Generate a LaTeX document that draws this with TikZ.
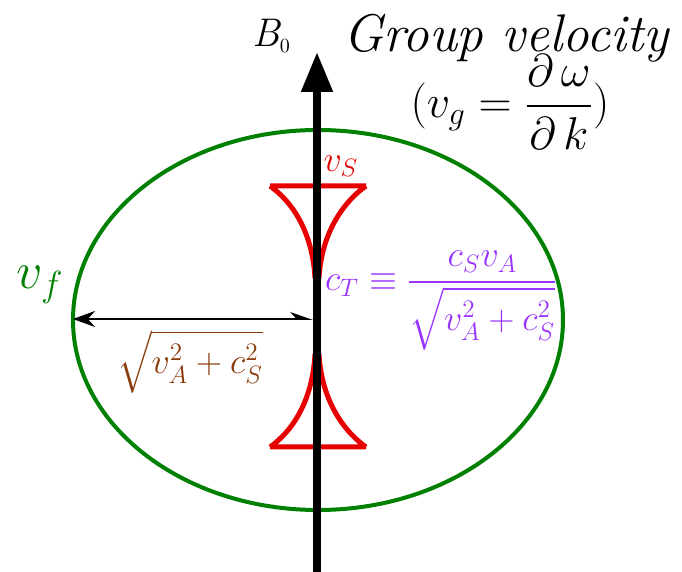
\RequirePackage{fix-cm}
\documentclass[tikz,border=0pt]{standalone}
\usepackage{amsmath}
\usepackage{fontspec}
\usetikzlibrary{arrows.meta, positioning, calc}
\definecolor{fastgreen}{HTML}{008000}
\definecolor{slowred}{HTML}{E60000}
\definecolor{cuspviolet}{HTML}{9933FF}
\definecolor{rootbrown}{HTML}{8B3A0A}

\begin{document}
\begin{tikzpicture}[
  x=0.5pt, y=-0.5pt,
  fast/.style={draw=fastgreen, line width=2pt},
  slow/.style={draw=slowred, line width=2.5pt, line join=round},
  field/.style={line width=4pt, -{Triangle[length=20pt, width=15pt]}},
  speed/.style={line width=1pt, {Stealth[length=11pt, width=8pt]}-{Stealth[harpoon, length=10pt, width=7pt]}},
  lbl/.style={inner sep=0pt, outer sep=0pt}
]
  \useasboundingbox (0,0) rectangle (682,572);

  % fast and slow wave fronts
  \draw[fast] (318,320) ellipse [x radius=245, y radius=190];
  \draw[slow] (270,186) -- (366,186)
    (270,186) .. controls (298,206) and (313,240) .. (315,278)
    (366,186) .. controls (338,206) and (321,240) .. (319,278);
  \draw[slow] (270,447) -- (366,447)
    (270,447) .. controls (298,427) and (313,393) .. (315,354)
    (366,447) .. controls (338,427) and (321,393) .. (319,354);

  % field line and fast speed
  \coordinate (axbot) at (317,572);
  \coordinate (axtop) at (317,52);
  \coordinate (fleft) at (73,319);
  \coordinate (faxis) at (313,319);
  \draw[field] (axbot) -- (axtop);
  \draw[speed] (fleft) -- (faxis);

  \node[lbl] (bzero) at (271,36) {\fontsize{20}{24}\selectfont\itshape B\raisebox{-0.35ex}{\fontsize{10}{10}\selectfont\upshape 0}};
  \node[lbl] (title) at (506,38) {\fontsize{26.5}{30}\selectfont\itshape Group velocity};
  \node[lbl] (vgroup) at (510,102) {\fontsize{23}{28}\selectfont $(v_{g} = \dfrac{\partial\,\omega}{\partial\,k})$};

  \node[lbl, text=slowred] (vslow) at (341,166) {\fontsize{18}{20}\selectfont $v_{S}$};
  \node[lbl, anchor=base west, text=cuspviolet] (ctube) at (325,291) {\fontsize{18}{20}\selectfont $c_{T} \equiv \dfrac{c_{S} v_{A}}{\sqrt{v_{A}^{2} + c_{S}^{2}}}$};
  \node[lbl, text=fastgreen] (vfast) at (40,285) {\fontsize{26}{30}\selectfont $v_{f}$};
  \node[lbl, text=rootbrown] (vroot) at (190,362) {\fontsize{18}{20}\selectfont $\sqrt{v_{A}^{2} + c_{S}^{2}}$};
\end{tikzpicture}
\end{document}
